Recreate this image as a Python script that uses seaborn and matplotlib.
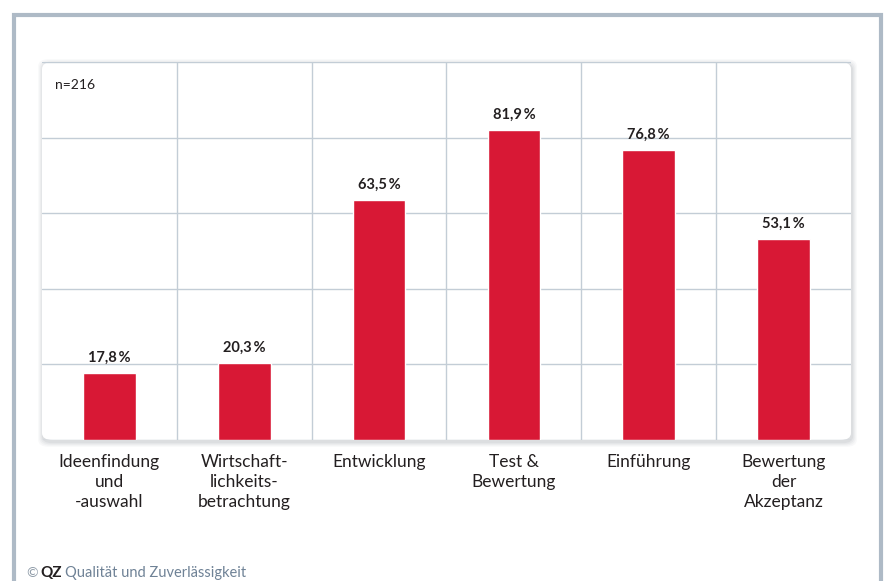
import numpy as np
import pandas as pd
import seaborn as sns
import matplotlib.pyplot as plt
from matplotlib.patches import FancyBboxPatch, Rectangle

categories = ['Ideenfindung\nund\n-auswahl', 'Wirtschaft-\nlichkeits-\nbetrachtung', 'Entwicklung',
              'Test &\nBewertung', 'Einführung', 'Bewertung\nder\nAkzeptanz']
values = [17.8, 20.3, 63.5, 81.9, 76.8, 53.1]
value_labels = ['17,8\u2009%', '20,3\u2009%', '63,5\u2009%', '81,9\u2009%', '76,8\u2009%', '53,1\u2009%']
yticks = [0, 20, 40, 60, 80, 100]

bar_color = '#D81835'
grid_color = '#C3CDD6'
frame_color = '#AEBAC6'
text_color = '#231F20'

sns.set_style('white')
plt.rcParams['font.family'] = ['Lato', 'DejaVu Sans']

df = pd.DataFrame({'cat': categories, 'val': values})

fig = plt.figure(figsize=(8.87, 5.81), dpi=100)
W, H = 887, 581

# outer frame
fig.patches.append(Rectangle((14 / W, -0.05), (881 - 14) / W, 1.05 - 15 / H, transform=fig.transFigure,
                             fill=False, edgecolor=frame_color, linewidth=3, zorder=0))

left, right, top, bottom = 42, 851, 62, 440
ax_rect = [left / W, 1 - bottom / H, (right - left) / W, (bottom - top) / H]

# soft shadow + rounded plot panel
for i, a in enumerate([0.05, 0.06, 0.08, 0.1]):
    pad = (4 - i) * 1.2
    fig.patches.append(FancyBboxPatch(((left - pad + 1) / W, 1 - (bottom + pad + 2) / H),
                                      (right - left + 2 * pad) / W, (bottom - top + 2 * pad) / H,
                                      boxstyle='round,pad=0,rounding_size=0.012', transform=fig.transFigure,
                                      facecolor='#7F8790', edgecolor='none', alpha=a, zorder=1))
fig.patches.append(FancyBboxPatch((left / W, 1 - bottom / H), (right - left) / W, (bottom - top) / H,
                                  boxstyle='round,pad=0,rounding_size=0.012', transform=fig.transFigure,
                                  facecolor='white', edgecolor='none', zorder=2))

ax = fig.add_axes(ax_rect, zorder=3)
ax.patch.set_visible(False)
sns.barplot(data=df, x='cat', y='val', color=bar_color, width=0.39, saturation=1, ax=ax, zorder=3)

ax.set_ylim(0, 100)
ax.set_xlim(-0.5, 5.5)
ax.set_yticks(yticks)
ax.set_yticklabels([])
ax.set_xticks(np.arange(0.5, 5.5, 1), minor=True)
ax.grid(axis='y', which='major', color=grid_color, linewidth=1.0, zorder=0)
ax.grid(axis='x', which='minor', color=grid_color, linewidth=1.0, zorder=0)
ax.set_axisbelow(True)
for s in ax.spines.values():
    s.set_visible(False)
ax.tick_params(axis='both', which='both', length=0)
ax.tick_params(axis='x', pad=10)
ax.set_xlabel('')
ax.set_ylabel('')
for lab in ax.get_xticklabels():
    lab.set_fontsize(12.5)
    lab.set_color(text_color)
    lab.set_linespacing(1.3)
    lab.set_verticalalignment('top')

for i, (v, t) in enumerate(zip(values, value_labels)):
    ax.annotate(t, (i, v), xytext=(0, 6), textcoords='offset points', ha='center', va='bottom',
                fontsize=10.5, fontweight='bold', color=text_color)

ax.text(0.016, 0.94, 'n=216', transform=ax.transAxes, fontsize=10, color=text_color, va='center')

# footer
fig.text(26 / W, 1 - 573 / H, '©', fontsize=10, color='#8C99A6', va='center')
fig.text(40 / W, 1 - 573 / H, 'QZ', fontsize=11, fontweight='bold', color=text_color, va='center')
fig.text(65 / W, 1 - 573 / H, 'Qualität und Zuverlässigkeit', fontsize=10.5, color='#6F8296', va='center')

fig.savefig('out.png', dpi=100)
